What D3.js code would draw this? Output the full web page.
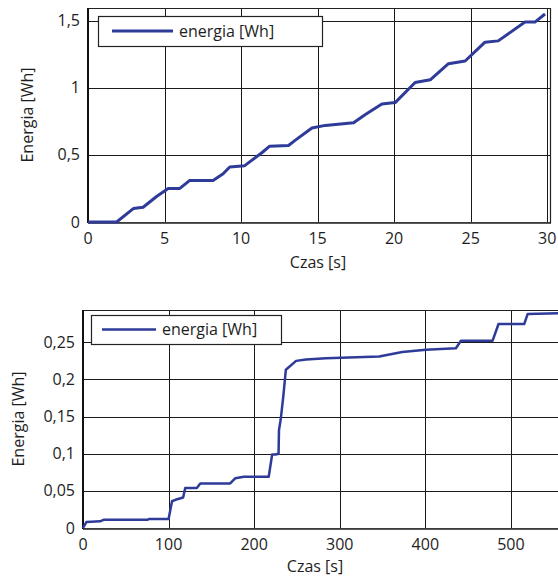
<!DOCTYPE html>
<html>
<head>
<meta charset="utf-8">
<title>energia</title>
<style>
  body { margin: 0; background: #fff; }
  svg text { font-family: "Open Sans", "DejaVu Sans", sans-serif; fill: #1e1e1e; }
  .grid line { stroke: #1a1a1a; stroke-width: 1px; }
  .series { fill: none; stroke: #2e3b98; stroke-linejoin: round; }
</style>
</head>
<body>
<svg id="chart" width="558" height="577"></svg>
<script src="https://cdn.jsdelivr.net/npm/d3@7"></script>
<script>
// top chart: 0-30 s
var topTime   = [0, 1.87, 2.96, 3.6, 4.48, 5.24, 6.0, 6.65, 8.17, 8.83, 9.26, 10.24, 11.4, 11.87, 13.1, 13.55, 14.63, 15.5, 17.35, 18.1, 19.2, 20.07, 21.37, 22.36, 23.55, 24.64, 25.94, 26.8, 28.55, 29.2, 29.86];
var topEnergy = [0, 0, 0.10, 0.11, 0.19, 0.25, 0.25, 0.31, 0.31, 0.36, 0.41, 0.42, 0.52, 0.565, 0.57, 0.61, 0.70, 0.72, 0.74, 0.80, 0.88, 0.89, 1.04, 1.06, 1.18, 1.20, 1.34, 1.35, 1.49, 1.49, 1.55];
var topXTicks = [0, 5, 10, 15, 20, 25, 30];
var topYTicks = [0, 0.5, 1, 1.5];

// bottom chart: 0-555 s
var bottomTime   = [0, 3.9, 20, 24, 75, 77, 100, 104, 108, 117, 119.5, 133, 137, 172, 178, 188, 217, 221, 225, 228.5, 229, 231, 234, 237, 249, 260.5, 284, 346, 373, 400.7, 435.7, 441.6, 478.5, 485.5, 515.5, 519.5, 555];
var bottomEnergy = [0, 0.008, 0.009, 0.011, 0.011, 0.012, 0.012, 0.036, 0.038, 0.041, 0.054, 0.054, 0.060, 0.060, 0.067, 0.069, 0.069, 0.099, 0.099, 0.10, 0.132, 0.146, 0.177, 0.213, 0.225, 0.227, 0.2285, 0.231, 0.237, 0.24, 0.242, 0.252, 0.252, 0.2746, 0.2746, 0.288, 0.289];
var bottomXTicks = [0, 100, 200, 300, 400, 500];
var bottomYTicks = [0, 0.05, 0.1, 0.15, 0.2, 0.25];

var legendLabel = 'energia [Wh]';
var xTitle = 'Czas [s]';
var yTitle = 'Energia [Wh]';

var svg = d3.select('#chart');
var comma = function(v) { return String(v).replace('.', ','); };

function drawChart(opt) {
    var x = d3.scaleLinear().domain(opt.xDomain).range([opt.left, opt.right]);
    var y = d3.scaleLinear().domain(opt.yDomain).range([opt.bottom, opt.top]);
    var g = svg.append('g');

    // grid
    var grid = g.append('g').attr('class', 'grid');
    grid.selectAll('.vx').data(opt.xTicks.filter(function(d) { return d > 0; }))
        .enter().append('line')
        .attr('x1', function(d) { return Math.round(x(d)) + 0.5; })
        .attr('x2', function(d) { return Math.round(x(d)) + 0.5; })
        .attr('y1', opt.top).attr('y2', opt.bottom);
    grid.selectAll('.hy').data(opt.yTicks)
        .enter().append('line')
        .attr('x1', opt.left).attr('x2', opt.right)
        .attr('y1', function(d) { return Math.round(y(d)) + 0.5; })
        .attr('y2', function(d) { return Math.round(y(d)) + 0.5; })
        .style('stroke', function(d) { return d === 0 ? '#888' : null; });

    // frame
    g.append('line').attr('x1', opt.left).attr('x2', opt.right).attr('y1', opt.top + 0.5).attr('y2', opt.top + 0.5)
        .attr('stroke', '#222').attr('stroke-width', 1.2);
    g.append('line').attr('x1', opt.left).attr('x2', opt.left).attr('y1', opt.top).attr('y2', opt.bottom + 1)
        .attr('stroke', '#111').attr('stroke-width', 2);
    g.append('line').attr('x1', opt.left).attr('x2', opt.right).attr('y1', opt.bottom + 1).attr('y2', opt.bottom + 1)
        .attr('stroke', '#222').attr('stroke-width', 1.5);
    if (opt.rightBorder) {
        g.append('line').attr('x1', opt.right - 0.5).attr('x2', opt.right - 0.5).attr('y1', opt.top).attr('y2', opt.bottom + 1)
            .attr('stroke', '#222').attr('stroke-width', 1.2);
    }

    // series
    var line = d3.line()
        .x(function(d, i) { return x(opt.xs[i]); })
        .y(function(d) { return y(d); });
    g.append('path').datum(opt.ys).attr('class', 'series')
        .attr('stroke-width', opt.lineWidth).attr('d', line);

    // tick labels
    g.selectAll('.xl').data(opt.xTicks).enter().append('text')
        .attr('x', function(d) { return x(d); })
        .attr('y', opt.bottom + 22)
        .attr('text-anchor', 'middle')
        .style('font-size', '16px')
        .text(function(d) { return comma(d); });
    g.selectAll('.yl').data(opt.yTicks).enter().append('text')
        .attr('x', opt.left - 8)
        .attr('y', function(d) { return y(d) + 5.5; })
        .attr('text-anchor', 'end')
        .style('font-size', '16px')
        .text(function(d) { return comma(d); });

    // titles
    g.append('text').attr('x', opt.xTitleX).attr('y', opt.bottom + opt.xTitleDy)
        .attr('text-anchor', 'middle').style('font-size', '16px').text(xTitle);
    g.append('text')
        .attr('transform', 'translate(' + opt.yTitleX + ',' + (opt.top + opt.bottom) / 2 + ') rotate(-90)')
        .attr('text-anchor', 'middle').style('font-size', '16px').text(yTitle);

    // legend
    var lg = opt.legend;
    g.append('rect').attr('x', lg.x + 0.5).attr('y', lg.y + 0.5).attr('width', lg.w).attr('height', lg.h)
        .attr('fill', '#fff').attr('stroke', '#222').attr('stroke-width', 1.2);
    g.append('line').attr('x1', lg.x + lg.lx1).attr('x2', lg.x + lg.lx2)
        .attr('y1', lg.y + lg.h / 2).attr('y2', lg.y + lg.h / 2)
        .attr('stroke', '#2e3b98').attr('stroke-width', opt.lineWidth);
    g.append('text').attr('x', lg.x + lg.lx2 + 6).attr('y', lg.y + lg.h / 2 + 5.5)
        .style('font-size', '16px').text(legendLabel);
}

drawChart({
    xs: topTime, ys: topEnergy, xTicks: topXTicks, yTicks: topYTicks,
    xDomain: [0, 30.25], yDomain: [0, 1.595],
    left: 88, right: 551, top: 8, bottom: 222,
    rightBorder: true, lineWidth: 3,
    xTitleX: 318, xTitleDy: 46, yTitleX: 33,
    legend: { x: 98, y: 16, w: 224, h: 30, lx1: 14, lx2: 75 }
});

drawChart({
    xs: bottomTime, ys: bottomEnergy, xTicks: bottomXTicks, yTicks: bottomYTicks,
    xDomain: [0, 555], yDomain: [0, 0.2935],
    left: 83, right: 558, top: 310, bottom: 528,
    rightBorder: false, lineWidth: 2.5,
    xTitleX: 315, xTitleDy: 44, yTitleX: 24,
    legend: { x: 91, y: 315, w: 190, h: 29, lx1: 11, lx2: 65 }
});
</script>
</body>
</html>
